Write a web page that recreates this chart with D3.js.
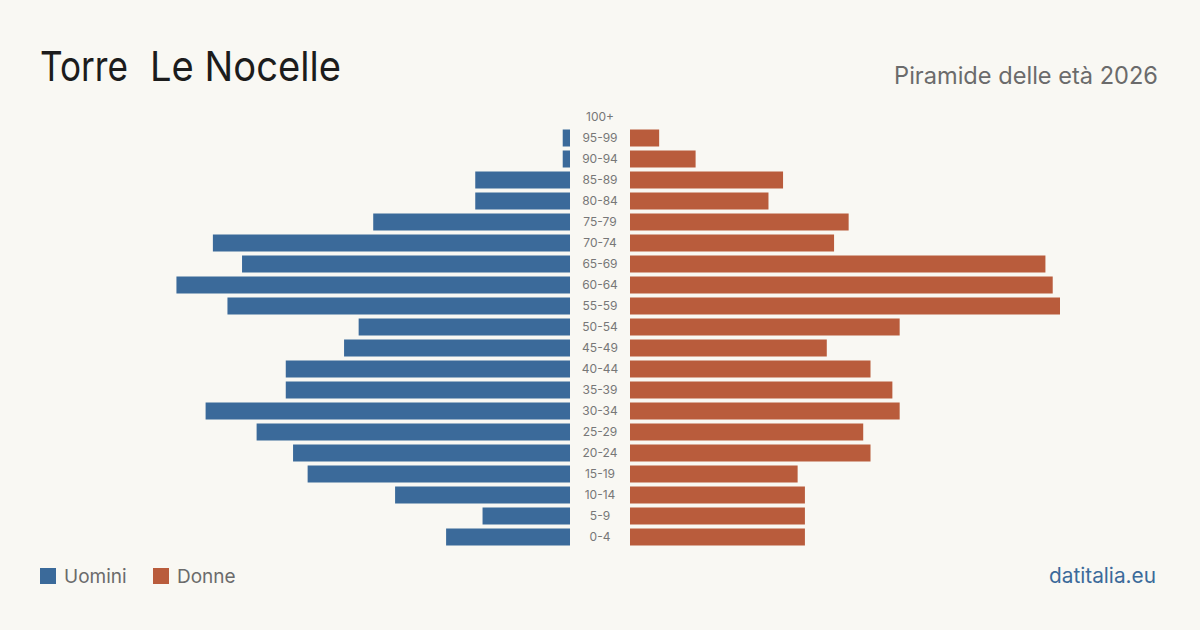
<!DOCTYPE html>
<html lang="it">
<head>
<meta charset="UTF-8">
<title>Torre Le Nocelle - Piramide delle età 2026</title>
<script src="https://d3js.org/d3.v7.min.js"></script>
<style>
  html, body { margin: 0; padding: 0; background: #f9f8f3; }
  text { font-family: Inter, "Noto Sans", sans-serif; }
</style>
</head>
<body>
<script>
// age classes, top to bottom
var ageGroups = ["100+", "95-99", "90-94", "85-89", "80-84", "75-79", "70-74", "65-69", "60-64", "55-59",
                 "50-54", "45-49", "40-44", "35-39", "30-34", "25-29", "20-24", "15-19", "10-14", "5-9", "0-4"];
var uomini = [0, 1, 1, 13, 13, 27, 49, 45, 54, 47, 29, 31, 39, 39, 50, 43, 38, 36, 24, 12, 17];
var donne  = [0, 4, 9, 21, 19, 30, 28, 57, 58, 59, 37, 27, 33, 36, 37, 32, 33, 23, 24, 24, 24];

var W = 1200, H = 630;
var blue = "#3b6a9a", red = "#b95c3c";

var svg = d3.select("body").append("svg")
    .attr("width", W).attr("height", H);

svg.append("rect").attr("width", W).attr("height", H).attr("fill", "#f9f8f3");

// title (two words, wide gap between them) + subtitle
var titleParts = [{ t: "Torre", x: 40, w: 88 }, { t: "Le Nocelle", x: 150, w: 191 }];
svg.append("g").selectAll("text").data(titleParts).enter().append("text")
    .attr("x", function (d) { return d.x; }).attr("y", 81)
    .attr("font-size", 41).attr("fill", "#1c1c1c")
    .attr("textLength", function (d) { return d.w; })
    .attr("lengthAdjust", "spacingAndGlyphs")
    .text(function (d) { return d.t; });

svg.append("text")
    .attr("x", 1158).attr("y", 84)
    .attr("text-anchor", "end")
    .attr("font-size", 23.6).attr("fill", "#6b6b6b")
    .text("Piramide delle età 2026");

// scales
var y = d3.scaleBand().domain(ageGroups).range([106.5, 547.5]).paddingInner(4 / 21).paddingOuter(2 / 21);
var maxV = 59;
var xL = d3.scaleLinear().domain([0, maxV]).range([570, 140]);
var xR = d3.scaleLinear().domain([0, maxV]).range([630, 1060]);

var rows = ageGroups.map(function (a, i) { return { age: a, m: uomini[i], f: donne[i] }; });

svg.append("g").selectAll("rect")
    .data(rows.filter(function (d) { return d.m > 0; }))
    .enter().append("rect")
    .attr("x", function (d) { return xL(d.m); })
    .attr("y", function (d) { return y(d.age); })
    .attr("width", function (d) { return xL(0) - xL(d.m); })
    .attr("height", y.bandwidth())
    .attr("fill", blue);

svg.append("g").selectAll("rect")
    .data(rows.filter(function (d) { return d.f > 0; }))
    .enter().append("rect")
    .attr("x", xR(0))
    .attr("y", function (d) { return y(d.age); })
    .attr("width", function (d) { return xR(d.f) - xR(0); })
    .attr("height", y.bandwidth())
    .attr("fill", red);

// age labels in the middle
svg.append("g").selectAll("text")
    .data(ageGroups)
    .enter().append("text")
    .attr("x", 600)
    .attr("y", function (d) { return y(d) + y.bandwidth() / 2; })
    .attr("dy", "0.35em")
    .attr("text-anchor", "middle")
    .attr("font-size", 12).attr("fill", "#777")
    .text(function (d) { return d; });

// legend
var legend = [{ name: "Uomini", color: blue, x: 40 }, { name: "Donne", color: red, x: 153 }];
var lg = svg.append("g").selectAll("g").data(legend).enter().append("g")
    .attr("transform", function (d) { return "translate(" + d.x + ",568)"; });
lg.append("rect").attr("width", 16).attr("height", 16).attr("fill", function (d) { return d.color; });
lg.append("text").attr("x", 24).attr("y", 15)
    .attr("font-size", 19).attr("fill", "#6b6b6b")
    .text(function (d) { return d.name; });

svg.append("text")
    .attr("x", 1156).attr("y", 583)
    .attr("text-anchor", "end")
    .attr("font-size", 20.8).attr("fill", "#3b6a9a")
    .text("datitalia.eu");
</script>
</body>
</html>
